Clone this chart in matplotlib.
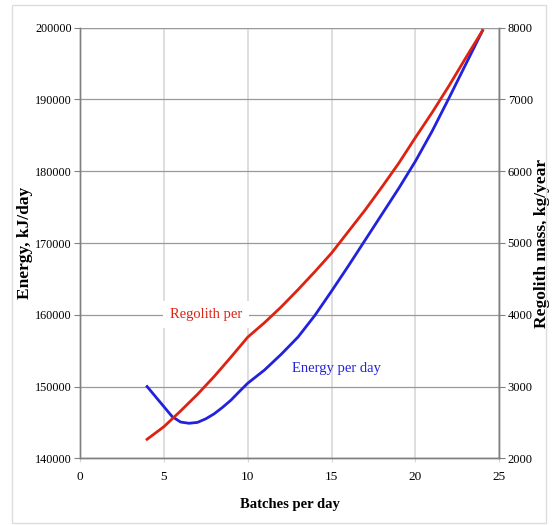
import matplotlib
matplotlib.use("Agg")
import matplotlib.pyplot as plt
from matplotlib.patches import Rectangle

batches = [4, 4.5, 5, 5.5, 6, 6.5, 7, 7.5, 8, 8.5, 9, 9.5, 10, 11, 12, 13, 14, 15, 16, 17, 18, 19, 20, 21, 22, 23, 24]
energy = [150000, 148600, 147200, 145800, 145050, 144880, 145000, 145500, 146200, 147100, 148100,
          149300, 150460, 152300, 154500, 156900, 159900, 163300, 166800, 170400, 174000, 177600,
          181400, 185600, 190200, 194900, 199600]
regolith_x = [4, 5, 6, 7, 8, 9, 10, 11, 12, 13, 14, 15, 16, 17, 18, 19, 20, 21, 22, 23, 24]
regolith = [2265, 2440, 2660, 2890, 3140, 3410, 3688, 3890, 4110, 4350, 4600, 4860, 5160, 5460,
            5780, 6110, 6470, 6820, 7190, 7580, 7960]

x_ticks = [0, 5, 10, 15, 20, 25]
left_ticks = [140000, 150000, 160000, 170000, 180000, 190000, 200000]
right_ticks = [2000, 3000, 4000, 5000, 6000, 7000, 8000]

plt.rcParams['font.family'] = ['Liberation Serif', 'DejaVu Serif']

fig = plt.figure(figsize=(5.52, 5.25), dpi=100)
fig.patches.append(Rectangle((12 / 552, 0.004), 0.99 - 12 / 552, 0.986,
                             transform=fig.transFigure, fill=False,
                             edgecolor='#dddddd', linewidth=1.0))

ax = fig.add_axes([80 / 552, 1 - 458.3 / 525, (499.3 - 80) / 552, (458.3 - 27.7) / 525])
ax2 = ax.twinx()

ax.set_xlim(0, 25)
ax.set_ylim(140000, 200000)
ax2.set_ylim(2000, 8000)

ax.set_xticks(x_ticks)
ax.set_yticks(left_ticks)
ax2.set_yticks(right_ticks)

for a in (ax, ax2):
    for s in a.spines.values():
        s.set_color('#808080')
        s.set_linewidth(1.0)
    a.spines['top'].set_visible(False)

ax.grid(axis='y', color='#999999', linewidth=0.9)
ax.grid(axis='x', color='#d8d8d8', linewidth=1.2)
ax.set_axisbelow(True)
ax.axhline(200000, color='#999999', linewidth=0.9, zorder=0)

ax.tick_params(axis='y', direction='out', length=4, color='#808080', labelsize=8.7, pad=2)
ax.tick_params(axis='x', direction='out', length=3, color='#d8d8d8', labelsize=9.5, pad=6)
ax2.tick_params(axis='y', direction='out', length=4, color='#808080', labelsize=9, pad=2)

ax.plot(batches, energy, color='#2222dd', linewidth=2.0, zorder=3)
ax2.plot(regolith_x, regolith, color='#dd2211', linewidth=2.0, zorder=3)

ax.set_ylabel('Energy, kJ/day', fontsize=12.5, fontweight='bold')
ax.yaxis.set_label_coords(-0.112, 0.5)
ax2.set_ylabel('Regolith mass, kg/year', fontsize=12.5, fontweight='bold', labelpad=1)
ax.set_xlabel('Batches per day', fontsize=10.5, fontweight='bold', labelpad=11)

ax.text(7.5, 160000, 'Regolith per', color='#dd2211', fontsize=10.5, ha='center', va='center',
        bbox=dict(facecolor='white', edgecolor='none', pad=5), zorder=2)
ax.text(15.3, 152500, 'Energy per day', color='#2222dd', fontsize=10.5, ha='center', va='center',
        zorder=2)

fig.savefig('out.png', dpi=100)
